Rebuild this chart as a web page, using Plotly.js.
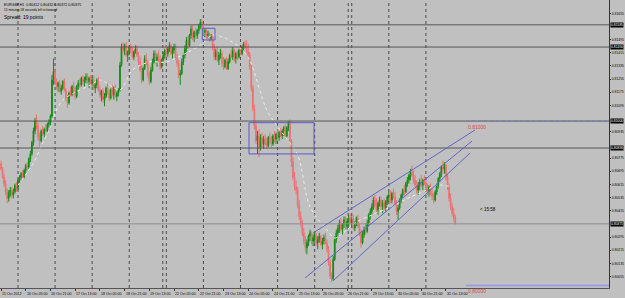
<!DOCTYPE html>
<html><head><meta charset="utf-8">
<script src="https://cdn.plot.ly/plotly-3.0.1.min.js"></script>
<style>html,body{margin:0;padding:0;background:#c0c0c0;}#chart{width:625px;height:298px;}</style>
</head><body><div id="chart"></div>
<script>
const symbolTitle = "EURGBP,H1  0.80412 0.80432 0.80372 0.80375";
const timerText = "15 minutes 58 seconds left to forward";
const spreadText = "Spread: 19 points";
const countdownText = "< 15:58";

const firstBarUTC = [2012, 9, 15, 13];
const barCount = 295;

const open = [0.8074,0.8071,0.8066,0.8062,0.8057,0.8053,0.8056,0.8058,0.8055,0.8057,
0.8061,0.8059,0.8064,0.8066,0.8068,0.8066,0.8070,0.8073,0.8072,0.8077,
0.8080,0.8087,0.8094,0.8100,0.8097,0.8090,0.8088,0.8094,0.8092,0.8095,
0.8094,0.8098,0.8099,0.8103,0.8125,0.8130,0.8124,0.8121,0.8123,0.8118,
0.8120,0.8124,0.8119,0.8114,0.8111,0.8117,0.8116,0.8121,0.8118,0.8115,
0.8121,0.8123,0.8122,0.8126,0.8124,0.8125,0.8127,0.8124,0.8126,0.8123,
0.8125,0.8120,0.8122,0.8125,0.8119,0.8116,0.8118,0.8113,0.8115,0.8120,
0.8117,0.8114,0.8119,0.8116,0.8120,0.8115,0.8117,0.8119,0.8134,0.8145,
0.8143,0.8146,0.8140,0.8142,0.8145,0.8142,0.8139,0.8142,0.8144,0.8140,
0.8136,0.8131,0.8125,0.8132,0.8138,0.8135,0.8128,0.8124,0.8131,0.8136,
0.8141,0.8137,0.8139,0.8137,0.8133,0.8137,0.8140,0.8143,0.8141,0.8144,
0.8146,0.8141,0.8143,0.8145,0.8138,0.8135,0.8128,0.8129,0.8136,0.8140,
0.8144,0.8149,0.8146,0.8152,0.8156,0.8151,0.8154,0.8152,0.8155,0.8158,
0.8160,0.8157,0.8154,0.8155,0.8152,0.8153,0.8150,0.8151,0.8145,0.8139,
0.8142,0.8137,0.8140,0.8141,0.8135,0.8133,0.8137,0.8132,0.8136,0.8140,
0.8139,0.8143,0.8138,0.8141,0.8139,0.8143,0.8141,0.8145,0.8147,0.8145,
0.8142,0.8140,0.8133,0.8120,0.8108,0.8097,0.8088,0.8091,0.8084,0.8090,
0.8086,0.8089,0.8087,0.8085,0.8090,0.8088,0.8086,0.8091,0.8089,0.8092,
0.8090,0.8093,0.8091,0.8094,0.8096,0.8091,0.8096,0.8099,0.8088,0.8075,
0.8066,0.8060,0.8058,0.8049,0.8042,0.8038,0.8032,0.8027,0.8023,0.8026,
0.8030,0.8032,0.8027,0.8029,0.8031,0.8026,0.8028,0.8030,0.8025,0.8027,
0.8029,0.8026,0.8022,0.8014,0.8006,0.8004,0.8016,0.8028,0.8032,0.8035,
0.8038,0.8034,0.8037,0.8040,0.8036,0.8039,0.8041,0.8038,0.8040,0.8035,
0.8037,0.8041,0.8036,0.8032,0.8026,0.8031,0.8034,0.8033,0.8038,0.8043,
0.8045,0.8048,0.8052,0.8049,0.8046,0.8050,0.8052,0.8048,0.8050,0.8047,
0.8051,0.8054,0.8055,0.8052,0.8056,0.8054,0.8050,0.8045,0.8047,0.8052,
0.8055,0.8058,0.8057,0.8062,0.8064,0.8067,0.8069,0.8067,0.8064,0.8061,
0.8058,0.8061,0.8063,0.8061,0.8064,0.8062,0.8059,0.8057,0.8060,0.8056,
0.8054,0.8052,0.8057,0.8061,0.8065,0.8068,0.8072,0.8071,0.8073,0.8066,
0.8060,0.8053,0.8048,0.8044,0.80412];

const high = [0.8076,0.8072,0.8068,0.8064,0.8059,0.8058,0.8060,0.8060,0.8059,0.8062,
0.8063,0.8065,0.8067,0.8069,0.8070,0.8071,0.8074,0.8075,0.8078,0.8082,
0.8088,0.8096,0.8102,0.8104,0.8099,0.8093,0.8095,0.8097,0.8096,0.8098,
0.8099,0.8101,0.8104,0.8128,0.8138,0.8132,0.8126,0.8124,0.8125,0.8122,
0.8125,0.8126,0.8120,0.8116,0.8118,0.8121,0.8122,0.8124,0.8121,0.8122,
0.8125,0.8126,0.8127,0.8128,0.8127,0.8129,0.8129,0.8127,0.8128,0.8127,
0.8128,0.8123,0.8126,0.8127,0.8121,0.8119,0.8120,0.8117,0.8121,0.8123,
0.8119,0.8120,0.8122,0.8121,0.8122,0.8118,0.8120,0.8136,0.8147,0.8148,
0.8147,0.8148,0.8143,0.8146,0.8147,0.8145,0.8143,0.8146,0.8146,0.8142,
0.8139,0.8134,0.8133,0.8140,0.8141,0.8137,0.8130,0.8133,0.8138,0.8143,
0.8143,0.8141,0.8143,0.8140,0.8138,0.8142,0.8144,0.8146,0.8145,0.8148,
0.8147,0.8145,0.8147,0.8147,0.8141,0.8137,0.8131,0.8138,0.8141,0.8146,
0.8151,0.8152,0.8153,0.8158,0.8158,0.8155,0.8157,0.8156,0.8159,0.8162,
0.8162,0.8158,0.8156,0.8156,0.8155,0.8154,0.8153,0.8152,0.8147,0.8144,
0.8145,0.8142,0.8144,0.8143,0.8139,0.8138,0.8139,0.8138,0.8141,0.8144,
0.8145,0.8144,0.8142,0.8143,0.8144,0.8145,0.8146,0.8148,0.8149,0.8149,
0.8147,0.8142,0.8135,0.8122,0.8110,0.8099,0.8094,0.8095,0.8092,0.8093,
0.8091,0.8092,0.8090,0.8091,0.8093,0.8091,0.8092,0.8094,0.8093,0.8095,
0.8094,0.8096,0.8095,0.8097,0.8098,0.8097,0.8100,0.8101,0.8089,0.8078,
0.8069,0.8064,0.8060,0.8052,0.8045,0.8040,0.8035,0.8030,0.8028,0.8031,
0.8034,0.8033,0.8031,0.8033,0.8032,0.8030,0.8032,0.8031,0.8029,0.8031,
0.8032,0.8028,0.8024,0.8016,0.8008,0.8018,0.8030,0.8034,0.8037,0.8040,
0.8041,0.8038,0.8042,0.8042,0.8041,0.8043,0.8044,0.8042,0.8043,0.8039,
0.8042,0.8043,0.8038,0.8034,0.8033,0.8036,0.8038,0.8040,0.8044,0.8047,
0.8050,0.8054,0.8055,0.8053,0.8051,0.8054,0.8054,0.8052,0.8053,0.8052,
0.8055,0.8057,0.8058,0.8057,0.8059,0.8057,0.8052,0.8049,0.8053,0.8056,
0.8059,0.8061,0.8063,0.8066,0.8068,0.8071,0.8073,0.8070,0.8067,0.8064,
0.8063,0.8065,0.8067,0.8065,0.8067,0.8064,0.8062,0.8061,0.8062,0.8059,
0.8056,0.8058,0.8062,0.8066,0.8069,0.8073,0.8076,0.8075,0.8074,0.8068,
0.8062,0.8056,0.8050,0.8047,0.80432];

const low = [0.8070,0.8065,0.8060,0.8055,0.8050,0.8051,0.8054,0.8053,0.8053,0.8056,
0.8057,0.8058,0.8062,0.8064,0.8065,0.8065,0.8068,0.8070,0.8071,0.8075,
0.8079,0.8085,0.8092,0.8095,0.8088,0.8084,0.8087,0.8091,0.8090,0.8093,
0.8093,0.8096,0.8097,0.8102,0.8122,0.8122,0.8119,0.8118,0.8117,0.8116,
0.8119,0.8118,0.8112,0.8108,0.8110,0.8115,0.8115,0.8116,0.8113,0.8114,
0.8119,0.8120,0.8121,0.8122,0.8121,0.8123,0.8123,0.8120,0.8122,0.8121,
0.8119,0.8117,0.8120,0.8118,0.8114,0.8112,0.8111,0.8109,0.8114,0.8116,
0.8112,0.8113,0.8115,0.8113,0.8114,0.8112,0.8115,0.8118,0.8133,0.8141,
0.8140,0.8139,0.8136,0.8140,0.8141,0.8138,0.8137,0.8141,0.8139,0.8134,
0.8130,0.8123,0.8124,0.8131,0.8134,0.8126,0.8122,0.8123,0.8130,0.8135,
0.8135,0.8133,0.8136,0.8131,0.8132,0.8136,0.8138,0.8139,0.8139,0.8142,
0.8140,0.8138,0.8141,0.8137,0.8133,0.8126,0.8122,0.8128,0.8134,0.8138,
0.8142,0.8144,0.8145,0.8150,0.8149,0.8148,0.8150,0.8150,0.8153,0.8156,
0.8155,0.8152,0.8151,0.8150,0.8150,0.8148,0.8149,0.8143,0.8137,0.8137,
0.8136,0.8134,0.8138,0.8133,0.8131,0.8132,0.8131,0.8131,0.8135,0.8138,
0.8137,0.8136,0.8135,0.8137,0.8138,0.8140,0.8140,0.8143,0.8144,0.8141,
0.8138,0.8131,0.8118,0.8106,0.8095,0.8086,0.8080,0.8078,0.8082,0.8084,
0.8083,0.8085,0.8083,0.8084,0.8086,0.8084,0.8085,0.8087,0.8086,0.8088,
0.8088,0.8090,0.8089,0.8091,0.8089,0.8090,0.8094,0.8086,0.8072,0.8064,
0.8058,0.8055,0.8047,0.8040,0.8036,0.8030,0.8025,0.8020,0.8019,0.8024,
0.8027,0.8025,0.8024,0.8026,0.8024,0.8022,0.8026,0.8024,0.8022,0.8025,
0.8025,0.8020,0.8012,0.8004,0.8002,0.8003,0.8015,0.8026,0.8030,0.8032,
0.8033,0.8031,0.8035,0.8034,0.8034,0.8036,0.8037,0.8035,0.8034,0.8033,
0.8036,0.8035,0.8030,0.8023,0.8025,0.8029,0.8031,0.8032,0.8036,0.8040,
0.8043,0.8046,0.8047,0.8044,0.8043,0.8048,0.8046,0.8044,0.8046,0.8045,
0.8049,0.8051,0.8050,0.8050,0.8053,0.8049,0.8043,0.8040,0.8046,0.8050,
0.8053,0.8055,0.8056,0.8060,0.8062,0.8064,0.8066,0.8062,0.8060,0.8056,
0.8055,0.8058,0.8060,0.8058,0.8061,0.8057,0.8055,0.8054,0.8055,0.8052,
0.8050,0.8051,0.8055,0.8059,0.8063,0.8066,0.8069,0.8068,0.8064,0.8058,
0.8051,0.8046,0.8042,0.8039,0.80372];

const close = [0.8071,0.8066,0.8062,0.8057,0.8053,0.8056,0.8058,0.8055,0.8057,0.8061,
0.8059,0.8064,0.8066,0.8068,0.8066,0.8070,0.8073,0.8072,0.8077,0.8080,
0.8087,0.8094,0.8100,0.8097,0.8090,0.8088,0.8094,0.8092,0.8095,0.8094,
0.8098,0.8099,0.8103,0.8125,0.8130,0.8124,0.8121,0.8123,0.8118,0.8120,
0.8124,0.8119,0.8114,0.8111,0.8117,0.8116,0.8121,0.8118,0.8115,0.8121,
0.8123,0.8122,0.8126,0.8124,0.8125,0.8127,0.8124,0.8126,0.8123,0.8125,
0.8120,0.8122,0.8125,0.8119,0.8116,0.8118,0.8113,0.8115,0.8120,0.8117,
0.8114,0.8119,0.8116,0.8120,0.8115,0.8117,0.8119,0.8134,0.8145,0.8143,
0.8146,0.8140,0.8142,0.8145,0.8142,0.8139,0.8142,0.8144,0.8140,0.8136,
0.8131,0.8125,0.8132,0.8138,0.8135,0.8128,0.8124,0.8131,0.8136,0.8141,
0.8137,0.8139,0.8137,0.8133,0.8137,0.8140,0.8143,0.8141,0.8144,0.8146,
0.8141,0.8143,0.8145,0.8138,0.8135,0.8128,0.8129,0.8136,0.8140,0.8144,
0.8149,0.8146,0.8152,0.8156,0.8151,0.8154,0.8152,0.8155,0.8158,0.8160,
0.8157,0.8154,0.8155,0.8152,0.8153,0.8150,0.8151,0.8145,0.8139,0.8142,
0.8137,0.8140,0.8141,0.8135,0.8133,0.8137,0.8132,0.8136,0.8140,0.8139,
0.8143,0.8138,0.8141,0.8139,0.8143,0.8141,0.8145,0.8147,0.8145,0.8142,
0.8140,0.8133,0.8120,0.8108,0.8097,0.8088,0.8091,0.8084,0.8090,0.8086,
0.8089,0.8087,0.8085,0.8090,0.8088,0.8086,0.8091,0.8089,0.8092,0.8090,
0.8093,0.8091,0.8094,0.8096,0.8091,0.8096,0.8099,0.8088,0.8075,0.8066,
0.8060,0.8058,0.8049,0.8042,0.8038,0.8032,0.8027,0.8023,0.8026,0.8030,
0.8032,0.8027,0.8029,0.8031,0.8026,0.8028,0.8030,0.8025,0.8027,0.8029,
0.8026,0.8022,0.8014,0.8006,0.8004,0.8016,0.8028,0.8032,0.8035,0.8038,
0.8034,0.8037,0.8040,0.8036,0.8039,0.8041,0.8038,0.8040,0.8035,0.8037,
0.8041,0.8036,0.8032,0.8026,0.8031,0.8034,0.8033,0.8038,0.8043,0.8045,
0.8048,0.8052,0.8049,0.8046,0.8050,0.8052,0.8048,0.8050,0.8047,0.8051,
0.8054,0.8055,0.8052,0.8056,0.8054,0.8050,0.8045,0.8047,0.8052,0.8055,
0.8058,0.8057,0.8062,0.8064,0.8067,0.8069,0.8067,0.8064,0.8061,0.8058,
0.8061,0.8063,0.8061,0.8064,0.8062,0.8059,0.8057,0.8060,0.8056,0.8054,
0.8052,0.8057,0.8061,0.8065,0.8068,0.8072,0.8071,0.8073,0.8066,0.8060,
0.8053,0.8048,0.8044,0.8041,0.80375];

const tickTimes = ["2012-10-15 13:00","2012-10-16 05:00","2012-10-16 21:00","2012-10-17 13:00","2012-10-18 05:00","2012-10-18 21:00","2012-10-19 13:00","2012-10-22 05:00","2012-10-22 21:00","2012-10-23 13:00","2012-10-24 05:00","2012-10-24 21:00","2012-10-25 13:00","2012-10-26 05:00","2012-10-26 21:00","2012-10-29 13:00","2012-10-30 05:00","2012-10-30 21:00","2012-10-31 13:00"];
const tickLabels = ["15 Oct 2012","16 Oct 05:00","16 Oct 21:00","17 Oct 13:00","18 Oct 05:00","18 Oct 21:00","19 Oct 13:00","22 Oct 05:00","22 Oct 21:00","23 Oct 13:00","24 Oct 05:00","24 Oct 21:00","25 Oct 13:00","26 Oct 05:00","26 Oct 21:00","29 Oct 13:00","30 Oct 05:00","30 Oct 21:00","31 Oct 13:00"];
const priceTicks = [0.79975,0.80055,0.80135,0.80215,0.80295,0.80455,0.80535,0.80615,0.80695,0.80775,0.80935,0.81095,0.81175,0.81255,0.81335,0.81415,0.81495,0.81655];

const levelLines = [0.81585, 0.81450, 0.81000, 0.80836];
const bidPrice = 0.80375;
const targetLevels = [0.81000, 0.80000];
const targetLabels = ["0.81000", "0.80000"];
const targetStartBar = 301;

const maBars = [11,21,27,32,35,40,47,58,64,77,85,96,107,120,129,137,145,155,161,172,183,192,200,211,216,230,240,252,265,273,282,292];
const maValues = [0.8061,0.80745,0.80867,0.80964,0.81049,0.81128,0.8117,0.81219,0.8125,0.8119,0.8131,0.81359,0.81359,0.81414,0.81462,0.81523,0.81505,0.81444,0.8137,0.81067,0.80915,0.80794,0.80477,0.80338,0.80289,0.80386,0.80429,0.80477,0.80538,0.80569,0.80611,0.80599];

const boxBars = [[130.3, 138.5], [160.5, 202.6]];
const boxPrices = [[0.81564, 0.81493], [0.8099, 0.8080]];
const channelBars = [[201.9, 306.8], [196.8, 304.9], [214.9, 303.6]];
const channelPrices = [[0.80319, 0.80946], [0.80046, 0.80879], [0.80028, 0.80806]];
const countdownBar = 308.5, countdownPrice = 0.80465;

// bar times (hourly, no weekend)
function fmt(d){const p=n=>String(n).padStart(2,'0');return d.getUTCFullYear()+'-'+p(d.getUTCMonth()+1)+'-'+p(d.getUTCDate())+' '+p(d.getUTCHours())+':00';}
const barTimes=[];
let t=Date.UTC(firstBarUTC[0],firstBarUTC[1],firstBarUTC[2],firstBarUTC[3]);
while(barTimes.length<barCount){const d=new Date(t);const wd=d.getUTCDay();if(wd!==0&&wd!==6)barTimes.push(fmt(d));t+=3600000;}
const xs = barTimes.map((_,i)=>i);
const tickvals = tickTimes.map(s=>barTimes.indexOf(s));

const shapes=[];
const gridStyle={color:'#4a4a4a',width:1,dash:'dot'};
barTimes.forEach((s,i)=>{
  if(s.endsWith(' 00:00')){
    shapes.push({type:'line',xref:'x',yref:'paper',x0:i,x1:i,y0:0,y1:1,line:gridStyle,layer:'below'});
    const d=new Date(s.replace(' ','T')+':00Z');
    if(d.getUTCDay()===1){shapes.push({type:'line',xref:'x',yref:'paper',x0:i-2.3,x1:i-2.3,y0:0,y1:1,line:gridStyle,layer:'below'});}
  }
});
levelLines.forEach(v=>shapes.push({type:'line',xref:'paper',yref:'y',x0:0,x1:1,y0:v,y1:v,line:{color:'#555555',width:1}}));
shapes.push({type:'line',xref:'paper',yref:'y',x0:0,x1:1,y0:bidPrice,y1:bidPrice,line:{color:'#8e8e8e',width:1}});
shapes.push({type:'line',xref:'x',yref:'y',x0:targetStartBar,x1:400,y0:targetLevels[0],y1:targetLevels[0],line:{color:'#7878c8',width:1,dash:'dot'}});
shapes.push({type:'line',xref:'x',yref:'y',x0:targetStartBar,x1:400,y0:targetLevels[1],y1:targetLevels[1],line:{color:'#9d9de4',width:2}});
boxBars.forEach((b,k)=>shapes.push({type:'rect',xref:'x',yref:'y',x0:b[0],x1:b[1],y0:boxPrices[k][0],y1:boxPrices[k][1],line:{color:'#5a5ac8',width:1},fillcolor:'rgba(0,0,0,0)'}));
channelBars.forEach((b,k)=>shapes.push({type:'line',xref:'x',yref:'y',x0:b[0],x1:b[1],y0:channelPrices[k][0],y1:channelPrices[k][1],line:{color:'#6464c8',width:1}}));

const F='Liberation Sans, Arial, sans-serif';
const annotations=[
  {xref:'paper',yref:'paper',x:0.004,y:0.998,xanchor:'left',yanchor:'top',text:symbolTitle,showarrow:false,font:{family:F,size:3.6,color:'#000'}},
  {xref:'paper',yref:'paper',x:0.004,y:0.978,xanchor:'left',yanchor:'top',text:timerText,showarrow:false,font:{family:F,size:3.2,color:'#000'}},
  {xref:'paper',yref:'paper',x:0.004,y:0.957,xanchor:'left',yanchor:'top',text:spreadText,showarrow:false,font:{family:F,size:5,color:'#000'}},
  {xref:'x',yref:'y',x:countdownBar,y:countdownPrice,xanchor:'left',yanchor:'middle',text:countdownText,showarrow:false,font:{family:F,size:4.5,color:'#000'}},
];
targetLevels.forEach((v,k)=>annotations.push({xref:'x',yref:'y',x:targetStartBar,y:v,xanchor:'left',yanchor:'top',yshift:-0.5,text:targetLabels[k],showarrow:false,font:{family:F,size:5,color:'#d84848'}}));
levelLines.concat([bidPrice]).forEach(v=>annotations.push({xref:'paper',yref:'y',x:1,y:v,xanchor:'left',yanchor:'middle',xshift:1,text:v.toFixed(5),showarrow:false,bgcolor:'#000000',borderpad:0,font:{family:F,size:3.4,color:'#ffffff'}}));
// time-axis labels, left-aligned at their tick like the terminal draws them
tickvals.forEach((v,k)=>annotations.push({xref:'x',yref:'paper',x:v,y:0,xanchor:'left',yanchor:'top',xshift:0,yshift:-2.5,text:tickLabels[k],showarrow:false,borderpad:0,font:{family:F,size:3.6,color:'#000'}}));

const traces=[
  {type:'scatter',mode:'lines',x:maBars,y:maValues,line:{color:'#ececec',width:1,dash:'dot',shape:'spline',smoothing:0.8},hoverinfo:'skip'},
  {type:'candlestick',x:xs,open:open,high:high,low:low,close:close,
   increasing:{line:{color:'#168a16',width:1},fillcolor:'#168a16'},
   decreasing:{line:{color:'#ee7070',width:1},fillcolor:'#f28a8a'},
   whiskerwidth:0,hoverinfo:'skip'}
];

const layout={
  width:625,height:298,margin:{l:0,r:16,t:0,b:10},
  paper_bgcolor:'#c0c0c0',plot_bgcolor:'#c0c0c0',showlegend:false,
  font:{family:F,color:'#000'},
  xaxis:{range:[-0.65,393.5],tickvals:tickvals,showticklabels:false,
    ticks:'outside',ticklen:2,tickcolor:'#333',
    showgrid:false,zeroline:false,showline:true,linecolor:'#555',linewidth:1,rangeslider:{visible:false},fixedrange:true},
  yaxis:{side:'right',range:[0.79985,0.81736],tickvals:priceTicks,tickformat:'.5f',ticks:'outside',ticklen:1,tickcolor:'#333',
    tickfont:{family:F,size:3.4,color:'#000'},showgrid:false,zeroline:false,showline:true,linecolor:'#333',linewidth:1,fixedrange:true},
  shapes:shapes,annotations:annotations
};
Plotly.newPlot('chart',traces,layout,{staticPlot:true,displayModeBar:false});
</script></body></html>
